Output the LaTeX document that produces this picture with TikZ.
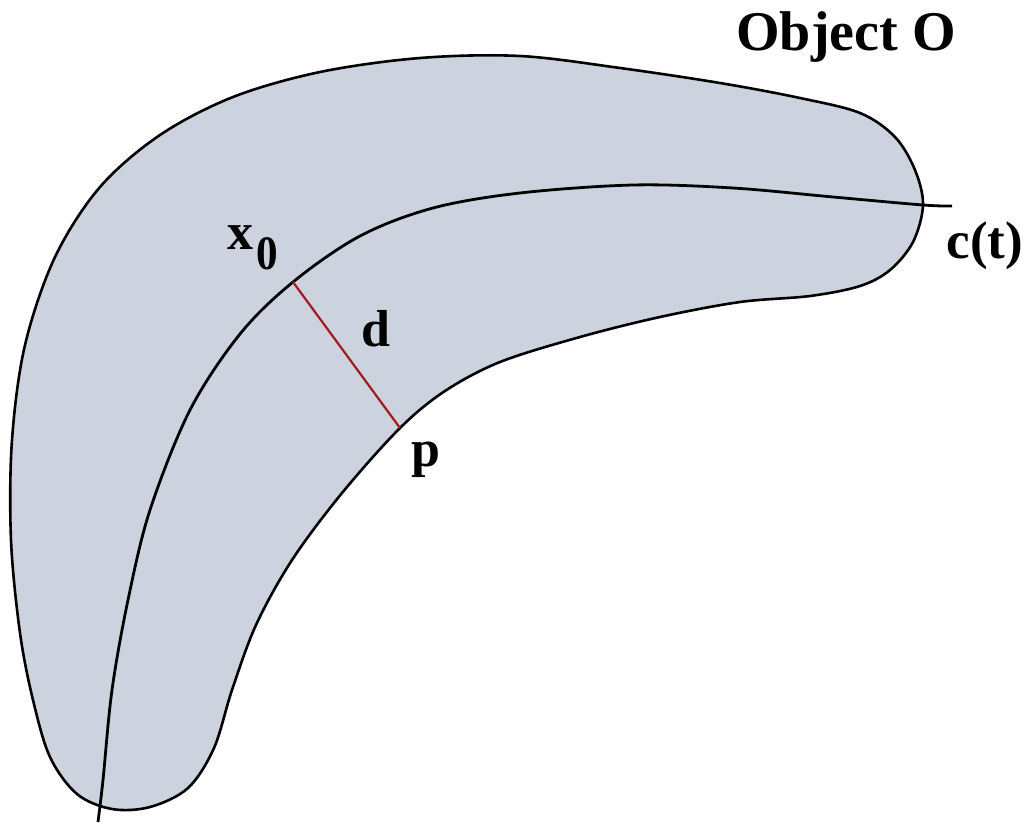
\documentclass[tikz,border=0pt]{standalone}
\usepackage{fontspec}
\setmainfont{Liberation Serif}
\definecolor{objfill}{RGB}{204,211,222}
\definecolor{dred}{RGB}{160,28,28}
\tikzset{
  lbl/.style={font=\bfseries\fontsize{52}{52}\selectfont, inner sep=0pt, text=black},
  outline/.style={draw=black, line width=2.6pt, fill=objfill, line join=round},
  curveline/.style={draw=black, line width=2.8pt, line join=round},
  distline/.style={draw=dred, line width=2.2pt}
}
\begin{document}
\begin{tikzpicture}[x=1pt,y=-1pt]
\useasboundingbox (0,0) rectangle (1035,825);
\fill[white] (0,0) rectangle (1035,825);
% object outline
\path[outline] plot[smooth cycle, tension=0.55] coordinates {
(12,440) (25,345) (55,257) (100,187) (160,135) (233,97) (320,72) (420,58)
(520,56) (620,68) (720,83) (800,98) (860,113) (895,137) (915,170) (923,205)
(913,242) (890,270) (860,286) (810,296) (740,302) (660,317) (580,337)
(500,362) (445,391) (400,428) (342,493) (292,560) (256,625) (232,690)
(214,748) (188,788) (150,807) (112,809) (77,794) (50,757) (33,700) (20,633)
(11,540)};
% curve c(t)
\path[curveline] plot[smooth, tension=0.55] coordinates {
(98,822) (103,780) (112,690) (128,600) (150,510) (190,410) (240,334)
(293,282) (360,236) (433,208) (520,193) (633,185) (733,188) (833,197)
(923,205) (952,206)};
\coordinate (x0) at (293,282);
\coordinate (p) at (400,428);
\draw[distline] (x0) -- (p);
% labels
\node[lbl, font=\bfseries\fontsize{56}{56}\selectfont] (obj) at (846,37) {Object O};
\node[lbl] (xlab) at (240,238) {x};
\node[lbl, font=\bfseries\fontsize{48}{48}\selectfont, xscale=0.9] (zlab) at (267,254) {0};
\node[lbl, font=\bfseries\fontsize{53}{53}\selectfont] (clab) at (985,246) {c(t)};
\node[lbl] (dlab) at (376,329) {d};
\node[lbl] (plab) at (426,460) {p};
\end{tikzpicture}
\end{document}
